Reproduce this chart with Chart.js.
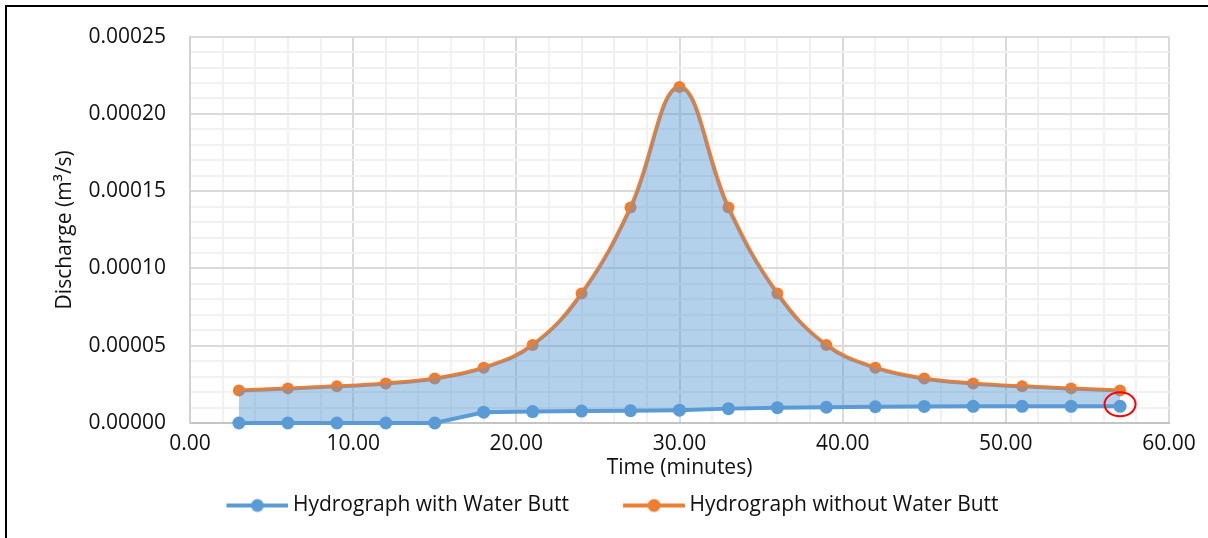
<!DOCTYPE html>
<html>
<head>
<meta charset="utf-8">
<script src="https://cdn.jsdelivr.net/npm/chart.js@4.4.0/dist/chart.umd.min.js"></script>
<style>
  html, body { margin: 0; padding: 0; background: #fff; overflow: hidden; }
  #wrap { position: relative; width: 1208px; height: 538px; }
  #frame { position: absolute; left: 5px; top: 5px; width: 1400px; height: 800px;
           border-left: 2px solid #000; border-top: 2px solid #000; pointer-events: none; }
</style>
</head>
<body>
<div id="wrap">
  <canvas id="hydro_chart"></canvas>
  <div id="frame"></div>
</div>
<script>
// time of each reading (minutes)
var times = [3, 6, 9, 12, 15, 18, 21, 24, 27, 30, 33, 36, 39, 42, 45, 48, 51, 54, 57];
// discharge with the water butt (m3/s)
var withButt = [0, 0, 0, 0, 0, 0.0000070, 0.0000074, 0.0000077, 0.0000080, 0.0000083,
                0.0000093, 0.0000099, 0.0000102, 0.0000105, 0.0000107, 0.0000108, 0.0000108, 0.0000108, 0.0000108];
// discharge without the water butt (m3/s)
var withoutButt = [0.0000211, 0.0000224, 0.0000237, 0.0000256, 0.0000288, 0.0000358, 0.0000505, 0.0000838, 0.0001394, 0.0002174,
                   0.0001394, 0.0000838, 0.0000505, 0.0000358, 0.0000288, 0.0000256, 0.0000237, 0.0000224, 0.0000211];
var seriesNames = ['Hydrograph with Water Butt', 'Hydrograph without Water Butt'];

var BLUE = '#5B9BD5';
var ORANGE = '#ED7D31';
var FONT = "'Open Sans', 'Liberation Sans', sans-serif";
var TEXT = '#111111';

function pts(ys) {
  var out = [];
  for (var i in ys) out.push({x: times[i], y: ys[i]});
  return out;
}

// little line-with-dot pictures for the legend
function legendMark(color) {
  var c = document.createElement('canvas');
  c.width = 112; c.height = 16;
  var g = c.getContext('2d');
  g.strokeStyle = color; g.lineWidth = 4;
  g.beginPath(); g.moveTo(50, 8); g.lineTo(112, 8); g.stroke();
  g.fillStyle = color;
  g.beginPath(); g.arc(81, 8, 6.5, 0, Math.PI * 2); g.fill();
  return c;
}
var marks = [legendMark(BLUE), legendMark(ORANGE)];

var redRing = {
  id: 'redRing',
  afterDatasetsDraw: function(chart) {
    var last = times.length - 1;
    var x = chart.scales.x.getPixelForValue(times[last]);
    var y = chart.scales.y.getPixelForValue(withButt[last]);
    var ctx = chart.ctx;
    ctx.save();
    ctx.strokeStyle = '#FF0000';
    ctx.lineWidth = 2;
    ctx.beginPath();
    ctx.ellipse(x, y - 2, 15.5, 12, 0, 0, Math.PI * 2);
    ctx.stroke();
    ctx.restore();
  }
};

function isMajorY(v) { return Math.round(v * 1e5) % 5 === 0; }
function isMajorX(v) { return Math.round(v) % 10 === 0; }

const ctx = document.getElementById('hydro_chart');
const data = {
  datasets: [{
    label: seriesNames[0],
    data: pts(withButt),
    borderColor: BLUE,
    backgroundColor: BLUE,
    borderWidth: 4,
    pointRadius: 6.5,
    pointBorderWidth: 0,
    pointBackgroundColor: BLUE,
    tension: 0,
    fill: false,
    clip: false,
    order: 0
  }, {
    label: seriesNames[1],
    data: pts(withoutButt),
    borderColor: ORANGE,
    backgroundColor: ORANGE,
    borderWidth: 4,
    pointRadius: 6,
    pointBorderWidth: 0,
    pointBackgroundColor: ORANGE,
    tension: 0.4,
    fill: false,
    order: 2
  }, {
    label: 'area',
    data: pts(withoutButt),
    borderColor: 'rgba(0,0,0,0)',
    borderWidth: 0,
    backgroundColor: 'rgba(91,155,213,0.46)',
    pointRadius: 0,
    tension: 0.4,
    fill: 0,
    order: 1
  }]
};

const option = {
  responsive: true,
  maintainAspectRatio: false,
  animation: false,
  layout: { padding: { top: 32, right: 39, left: 12, bottom: 12 } },
  plugins: {
    tooltip: { enabled: false },
    legend: {
      position: 'bottom',
      labels: {
        usePointStyle: true,
        pointStyleWidth: 100,
        padding: 10,
        color: TEXT,
        font: { family: FONT, size: 21, lineHeight: 1 },
        filter: function(item) { return item.datasetIndex !== 2; },
        generateLabels: function(chart) {
          var items = Chart.defaults.plugins.legend.labels.generateLabels(chart);
          items.forEach(function(it) {
            if (it.datasetIndex < 2) it.pointStyle = marks[it.datasetIndex];
          });
          return items;
        }
      }
    }
  },
  scales: {
    x: {
      type: 'linear',
      min: 0,
      max: 60,
      afterFit: function(s) { s.height = 62; },
      ticks: {
        stepSize: 2,
        autoSkip: false,
        maxRotation: 0,
        padding: 8,
        color: TEXT,
        font: { family: FONT, size: 21 },
        callback: function(v) { return isMajorX(v) ? v.toFixed(2) : ''; }
      },
      grid: {
        drawTicks: false,
        lineWidth: 2,
        color: function(c) { return isMajorX(c.tick.value) ? '#DADADA' : '#F1F1F1'; }
      },
      border: { color: '#C4C4C4', width: 2 },
      title: {
        display: true,
        text: 'Time (minutes)',
        color: TEXT,
        font: { family: FONT, size: 21 },
        padding: { top: 0, bottom: 4 }
      }
    },
    y: {
      min: 0,
      max: 0.00025,
      afterFit: function(s) { s.width = 178; },
      ticks: {
        stepSize: 0.00001,
        maxTicksLimit: 100,
        autoSkip: false,
        padding: 24,
        color: TEXT,
        font: { family: FONT, size: 21 },
        callback: function(v) { return isMajorY(v) ? v.toFixed(5) : ''; }
      },
      grid: {
        drawTicks: false,
        lineWidth: 2,
        color: function(c) { return isMajorY(c.tick.value) ? '#DADADA' : '#F1F1F1'; }
      },
      border: { color: '#D2D2D2', width: 2 },
      title: {
        display: true,
        text: 'Discharge (m³/s)',
        color: TEXT,
        font: { family: FONT, size: 21 },
        padding: { top: 40, bottom: 0 }
      }
    }
  }
};

const config = {
  type: 'line',
  data: data,
  options: option,
  plugins: [redRing]
};
const hydroChart = new Chart(ctx, config);
</script>
</body>
</html>
